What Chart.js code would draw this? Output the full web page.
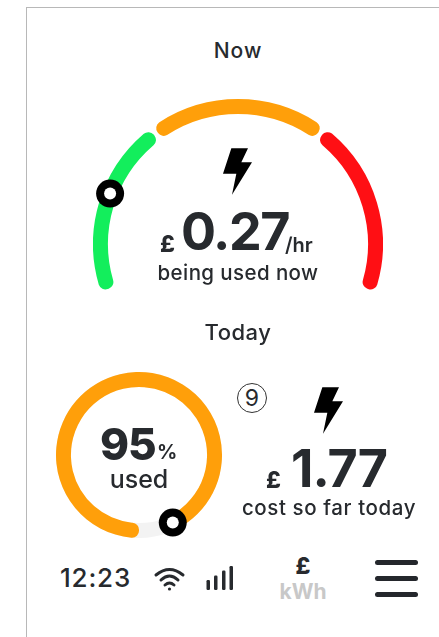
<!DOCTYPE html>
<html><head><meta charset="utf-8">
<script src="https://cdn.jsdelivr.net/npm/chart.js@4"></script>
<style>
html,body{margin:0;padding:0;background:#fff;}
body{width:439px;height:637px;position:relative;overflow:hidden;font-family:Inter,Lato,sans-serif;color:#272a2e;}
.t{position:absolute;white-space:nowrap;line-height:1;}
.c{transform:translateX(-50%);}
canvas{position:absolute;}
svg{position:absolute;overflow:visible;}
#frame{position:absolute;left:26px;top:7px;width:420px;height:700px;border:1px solid #b8b8b8;border-right:none;border-bottom:none;}
.bar{position:absolute;left:375px;width:43px;height:5px;border-radius:3px;background:#24272c;}
</style></head><body>
<div id="frame"></div>
<canvas id="gauge" width="290" height="197" style="left:93px;top:99px;width:290px;height:197px"></canvas>
<canvas id="used" width="166" height="168" style="left:56px;top:371px;width:166px;height:168px"></canvas>

<div class="t c" style="left:238px;top:40px;font-size:21px;font-weight:500;letter-spacing:1px">Now</div>
<svg style="left:223px;top:148px" width="29" height="47" viewBox="0 0 87 140"><polygon points="25,0 75,0 55,42 87,42 27,140 40,77 0,77" fill="#000"/></svg>
<div class="t" style="left:160px;top:233px;font-size:23px;font-weight:800">£</div>
<div class="t" style="left:181px;top:206px;font-size:52px;font-weight:700;letter-spacing:-1.5px">0.27</div>
<div class="t" style="left:285px;top:235px;font-size:20px;font-weight:600">/hr</div>
<div class="t c" style="left:238px;top:263px;font-size:20.5px;font-weight:500;letter-spacing:.4px">being used now</div>

<div class="t c" style="left:238px;top:321px;font-size:22px;font-weight:500;letter-spacing:.5px">Today</div>
<div class="t" style="left:100px;top:422px;font-size:44px;font-weight:800;letter-spacing:-1px">95</div>
<div class="t" style="left:157px;top:442px;font-size:20px;font-weight:700">%</div>
<div class="t c" style="left:139px;top:467px;font-size:25px;font-weight:500">used</div>

<div class="t" style="left:237px;top:383px;width:28px;height:28px;border:1px solid #333;border-radius:50%;text-align:center;line-height:28px;font-size:23px">9</div>
<svg style="left:314px;top:387px" width="29" height="47" viewBox="0 0 87 140"><polygon points="25,0 75,0 55,42 87,42 27,140 40,77 0,77" fill="#000"/></svg>
<div class="t" style="left:266px;top:469px;font-size:23px;font-weight:800">£</div>
<div class="t" style="left:291px;top:443px;font-size:52px;font-weight:700;letter-spacing:-1px">1.77</div>
<div class="t c" style="left:329px;top:498px;font-size:20.5px;font-weight:500;letter-spacing:.6px">cost so far today</div>

<div class="t" style="left:60px;top:565px;font-size:26px;font-weight:500;letter-spacing:.8px">12:23</div>
<svg style="left:154px;top:567px" width="31" height="24" viewBox="0 0 31 24" fill="none" stroke="#272a2e" stroke-width="3" stroke-linecap="round"><path d="M2 8 Q15.5 -3 29 8"/><path d="M7 13 Q15.5 5 24 13"/><path d="M11 18 Q15.5 14 20 18"/><circle cx="15.5" cy="22" r="1.6" fill="#272a2e" stroke="none"/></svg>
<svg style="left:206px;top:566px" width="28" height="25" viewBox="0 0 28 25" fill="#272a2e"><rect x="0.5" y="14" width="3.5" height="10" rx="1.2"/><rect x="8" y="9.5" width="3.5" height="14.5" rx="1.2"/><rect x="16" y="4.5" width="3.5" height="19.5" rx="1.2"/><rect x="23.5" y="0" width="3.5" height="24" rx="1.2"/></svg>
<div class="t c" style="left:303px;top:555px;font-size:23px;font-weight:800">£</div>
<div class="t c" style="left:303px;top:581px;font-size:21px;font-weight:700;color:#c8c8c8">kWh</div>
<div class="bar" style="top:560px"></div><div class="bar" style="top:576px"></div><div class="bar" style="top:592px"></div>

<script>
// Gauge: current cost per hour against three bands
const gaugeBands = ['low', 'medium', 'high'];
const gaugeBandValues = [0.5, 0.5, 0.5];
const gaugeBandColors = ['#13ee5c', '#ff9f0a', '#ff0f14'];
const gaugeValue = 0.27;
const gaugeMax = 1.43;

// Today: share of the daily budget used
const usedLabels = ['used', 'remaining'];
const usedValues = [95, 5];
const usedColors = ['#ff9f0a', 'rgba(0,0,0,0)'];
const trackColor = '#f3f3f3';

Chart.defaults.animation = false;

function ringMarker(chart, angle) {
  const arc = chart.getDatasetMeta(0).data[0];
  const shift = (arc.options.spacing || 0) / 2;
  const r = (arc.outerRadius + arc.innerRadius) / 2 + shift;
  const ctx = chart.ctx;
  const x = arc.x + Math.cos(angle) * r, y = arc.y + Math.sin(angle) * r;
  ctx.save();
  ctx.beginPath(); ctx.arc(x, y, 14, 0, Math.PI * 2); ctx.fillStyle = '#000'; ctx.fill();
  ctx.beginPath(); ctx.arc(x, y, 6, 0, Math.PI * 2); ctx.fillStyle = '#fff'; ctx.fill();
  ctx.restore();
}

const gaugeRotation = -110, gaugeCircumference = 220;
new Chart(document.getElementById('gauge'), {
  type: 'doughnut',
  data: { labels: gaugeBands, datasets: [{ data: gaugeBandValues, backgroundColor: gaugeBandColors, borderWidth: 0, borderRadius: 7, spacing: 7 }] },
  options: {
    responsive: false, cutout: '89.4%', rotation: gaugeRotation, circumference: gaugeCircumference,
    layout: { padding: 0 },
    plugins: { legend: { display: false }, tooltip: { enabled: false } }
  },
  plugins: [{ id: 'marker', afterDatasetsDraw(chart) {
    const deg = gaugeRotation + gaugeCircumference * gaugeValue / gaugeMax - 90;
    ringMarker(chart, deg * Math.PI / 180);
  } }]
});

new Chart(document.getElementById('used'), {
  type: 'doughnut',
  data: { labels: usedLabels, datasets: [{ data: usedValues, backgroundColor: usedColors, borderWidth: 0, borderRadius: [7, 0] }] },
  options: {
    responsive: false, cutout: '82%', rotation: 180, circumference: 351,
    layout: { padding: 0 },
    plugins: { legend: { display: false }, tooltip: { enabled: false } }
  },
  plugins: [{ id: 'track', beforeDatasetsDraw(chart) {
    const a = chart.getDatasetMeta(0).data[0], ctx = chart.ctx;
    ctx.save();
    ctx.beginPath();
    ctx.arc(a.x, a.y, (a.outerRadius + a.innerRadius) / 2, 0, Math.PI * 2);
    ctx.lineWidth = a.outerRadius - a.innerRadius; ctx.strokeStyle = trackColor; ctx.stroke();
    ctx.restore();
  }, afterDatasetsDraw(chart) {
    ringMarker(chart, chart.getDatasetMeta(0).data[0].endAngle);
  } }]
});
</script>
</body></html>
